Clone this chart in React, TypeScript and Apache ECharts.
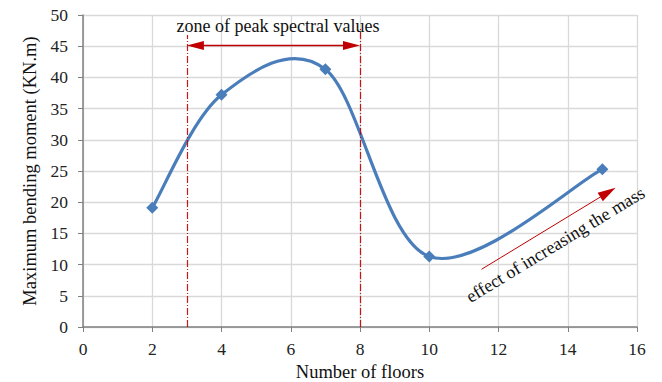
import React, { useEffect, useRef } from "react";
import * as echarts from "echarts";

// Number of floors vs. maximum bending moment
const floors = [2, 4, 7, 10, 15];
const moments = [19.1, 37.2, 41.3, 11.3, 25.3];

const xTicks = { min: 0, max: 16, interval: 2 };
const yTicks = { min: 0, max: 50, interval: 5 };

// Zone of peak spectral values: bounds on the floor axis and line tops
const zoneBounds = [3, 8];
const zoneTops = [46.8, 47.8];
const zoneArrowY = 45.1;
const zoneArrowInset = 0.245; // half an arrow head, in floors
const zoneLabel = "zone of peak spectral values";
const zoneLabelAt = [5.63, 48.2];

// Mass effect arrow (end point is the centre of the head)
const massArrowFrom = [11.51, 9.25];
const massArrowTo = [15.16, 21.57];
const massLabel = "effect of increasing the mass";
const massLabelAt = [13.64, 13.2];
const massLabelAngle = 31.3;

const FONT = "'Liberation Serif', 'Times New Roman', serif";
const BLUE = "#4a7ebb";
const RED = "#c00000";
const AXIS = "#808080";
const GRID = "#d9d9d9";

// Smoothed curve through the points, one cubic segment per pair
function renderCurve(params: any, api: any) {
  const i = params.dataIndex;
  const n = floors.length;
  if (i >= n - 1) return null;
  const pts = floors.map((f, k) => api.coord([f, moments[k]]));
  const p0 = pts[Math.max(i - 1, 0)];
  const p1 = pts[i];
  const p2 = pts[i + 1];
  const p3 = pts[Math.min(i + 2, n - 1)];
  return {
    type: "bezierCurve",
    shape: {
      x1: p1[0],
      y1: p1[1],
      x2: p2[0],
      y2: p2[1],
      cpx1: p1[0] + (p2[0] - p0[0]) / 6,
      cpy1: p1[1] + (p2[1] - p0[1]) / 6,
      cpx2: p2[0] - (p3[0] - p1[0]) / 6,
      cpy2: p2[1] - (p3[1] - p1[1]) / 6,
    },
    style: { stroke: BLUE, lineWidth: 3.2, fill: "none", lineCap: "round" },
  };
}

export default function App() {
  const ref = useRef<HTMLDivElement>(null);

  useEffect(() => {
    document.body.style.margin = "0";
    const chart = echarts.init(ref.current!, null, { renderer: "svg" });
    const points = floors.map((f, i) => [f, moments[i]]);
    chart.setOption({
      animation: false,
      textStyle: { fontFamily: FONT },
      grid: {
        left: 83,
        right: 25,
        top: 15,
        bottom: 55,
        containLabel: false,
        outerBoundsMode: "none",
      },
      xAxis: {
        type: "value",
        ...xTicks,
        name: "Number of floors",
        nameLocation: "middle",
        nameGap: 35,
        nameTextStyle: { fontFamily: FONT, fontSize: 18.5, color: "#111" },
        axisLine: { show: true, lineStyle: { color: AXIS, width: 1.5 } },
        axisTick: { show: true, length: 5, lineStyle: { color: AXIS } },
        axisLabel: { fontFamily: FONT, fontSize: 17.5, color: "#222", margin: 13 },
        splitLine: { show: true, lineStyle: { color: GRID, width: 1.3 } },
      },
      yAxis: {
        type: "value",
        ...yTicks,
        name: "Maximum bending moment (KN.m)",
        nameLocation: "middle",
        nameGap: 42,
        nameTextStyle: { fontFamily: FONT, fontSize: 18.5, color: "#111" },
        axisLine: { show: true, lineStyle: { color: AXIS, width: 1.5 } },
        axisTick: { show: true, length: 5, lineStyle: { color: AXIS } },
        axisLabel: { fontFamily: FONT, fontSize: 17.5, color: "#222", margin: 15 },
        splitLine: { show: true, lineStyle: { color: GRID, width: 1.3 } },
      },
      series: [
        {
          type: "custom",
          data: points,
          encode: { x: 0, y: 1 },
          renderItem: renderCurve,
          silent: true,
          z: 4,
        },
        {
          type: "scatter",
          data: points,
          symbol: "diamond",
          symbolSize: 12,
          itemStyle: { color: BLUE, opacity: 1 },
          z: 5,
          markPoint: {
            silent: true,
            symbol: "circle",
            symbolSize: 0,
            data: [
              {
                coord: zoneLabelAt,
                label: {
                  show: true,
                  position: "inside",
                  formatter: zoneLabel,
                  fontFamily: FONT,
                  fontSize: 18,
                  color: "#111",
                },
              },
              {
                coord: massLabelAt,
                label: {
                  show: true,
                  position: "inside",
                  formatter: massLabel,
                  rotate: massLabelAngle,
                  fontFamily: FONT,
                  fontSize: 18,
                  color: "#111",
                },
              },
            ],
          },
        },
        {
          type: "line",
          data: [],
          markLine: {
            silent: true,
            symbol: "none",
            label: { show: false },
            lineStyle: { color: RED, width: 1.2, type: [7, 2, 1, 2], opacity: 0.9 },
            data: zoneBounds.map((b, i) => [
              { coord: [b, 0] },
              { coord: [b, zoneTops[i]] },
            ]),
          },
        },
        {
          type: "line",
          data: [],
          markLine: {
            silent: true,
            symbol: ["triangle", "triangle"],
            symbolSize: [9, 17],
            label: { show: false },
            lineStyle: { color: RED, width: 1.3, type: "solid", opacity: 1 },
            itemStyle: { color: RED },
            data: [
              [
                { coord: [zoneBounds[0] + zoneArrowInset, zoneArrowY] },
                { coord: [zoneBounds[1] - zoneArrowInset, zoneArrowY] },
              ],
            ],
          },
        },
        {
          type: "line",
          data: [],
          markLine: {
            silent: true,
            symbol: ["none", "triangle"],
            symbolSize: [10, 18],
            label: { show: false },
            lineStyle: { color: RED, width: 1, type: "solid", opacity: 1 },
            itemStyle: { color: RED },
            data: [[{ coord: massArrowFrom }, { coord: massArrowTo }]],
          },
        },
      ],
    });
    return () => chart.dispose();
  }, []);

  return <div ref={ref} style={{ width: 662, height: 382 }} />;
}
